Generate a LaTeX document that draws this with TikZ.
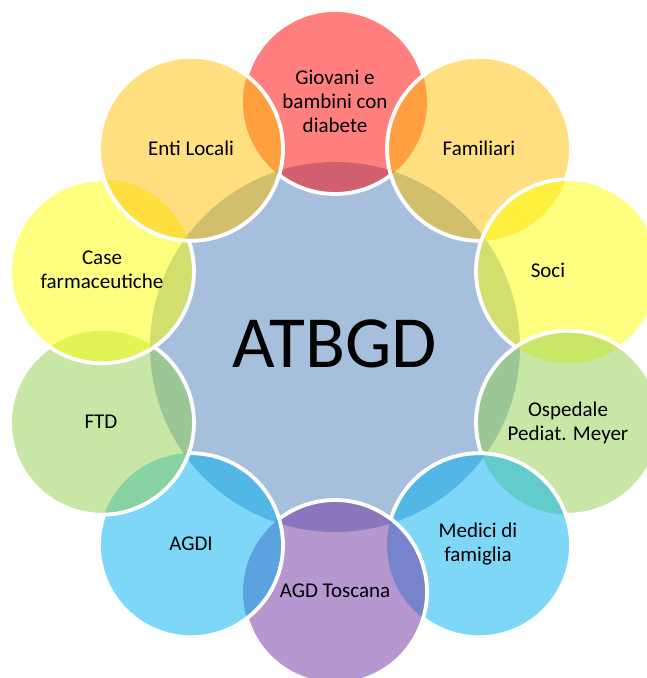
\documentclass[tikz,border=0pt]{standalone}
\usepackage{fontspec}
\setmainfont{Carlito}
\usetikzlibrary{calc}
\definecolor{cCenter}{RGB}{79,129,189}
\definecolor{cRed}{RGB}{255,0,0}
\definecolor{cOrange}{RGB}{255,192,0}
\definecolor{cYellow}{RGB}{255,255,0}
\definecolor{cGreen}{RGB}{146,208,80}
\definecolor{cBlue}{RGB}{0,176,240}
\definecolor{cPurple}{RGB}{112,48,160}
\tikzset{
  ring/.style={circle, minimum size=184pt, inner sep=0pt, outer sep=0pt, fill opacity=0.5, draw=none},
  hub/.style={circle, minimum size=370pt, inner sep=0pt, outer sep=0pt, fill=cCenter, fill opacity=0.5, draw=none},
  rim/.style={draw=white, line width=3.8pt},
  lbl/.style={font=\fontsize{21}{24}\selectfont, align=center, inner sep=0pt, text=black},
  big/.style={font=\fontsize{73.5}{80}\selectfont, inner sep=0pt, text=black},
}
\begin{document}
\begin{tikzpicture}[x=1pt,y=1pt]
\useasboundingbox (0,0) rectangle (647,678);
\fill[white] (0,0) rectangle (647,678);
\coordinate (C) at (335,331);
% fills
\node[hub] (hub) at (C) {};
\node[ring, fill=cRed]    (cRedN)  at ($(C)+(90:245pt)$) {};
\node[ring, fill=cOrange] (cFam)   at ($(C)+(54:245pt)$) {};
\node[ring, fill=cYellow] (cSoci)  at ($(C)+(18:245pt)$) {};
\node[ring, fill=cGreen]  (cOsp)   at ($(C)+(-18:245pt)$) {};
\node[ring, fill=cBlue]   (cMed)   at ($(C)+(-54:245pt)$) {};
\node[ring, fill=cPurple] (cTos)   at ($(C)+(-90:245pt)$) {};
\node[ring, fill=cBlue]   (cAgdi)  at ($(C)+(-126:245pt)$) {};
\node[ring, fill=cGreen]  (cFtd)   at ($(C)+(-162:245pt)$) {};
\node[ring, fill=cYellow] (cCase)  at ($(C)+(162:245pt)$) {};
\node[ring, fill=cOrange] (cEnti)  at ($(C)+(126:245pt)$) {};
% white rims (hidden where a later circle lies over them)
\draw[rim] ($(cRedN.center)+(16.6:92pt)$) arc[start angle=16.6, end angle=163.4, radius=92pt];
\draw[rim] ($(cRedN.center)+(232.6:92pt)$) arc[start angle=232.6, end angle=307.4, radius=92pt];
\draw[rim] ($(cFam.center)+(-19.4:92pt)$) arc[start angle=-19.4, end angle=271.4, radius=92pt];
\draw[rim] ($(cSoci.center)+(-55.4:92pt)$) arc[start angle=-55.4, end angle=235.4, radius=92pt];
\draw[rim] ($(cOsp.center)+(268.6:92pt)$) arc[start angle=268.6, end angle=559.4, radius=92pt];
\draw[rim] ($(cMed.center)+(232.6:92pt)$) arc[start angle=232.6, end angle=523.4, radius=92pt];
\draw[rim] ($(cTos.center)+(196.6:92pt)$) arc[start angle=196.6, end angle=487.4, radius=92pt];
\draw[rim] ($(cAgdi.center)+(160.6:92pt)$) arc[start angle=160.6, end angle=451.4, radius=92pt];
\draw[rim] ($(cFtd.center)+(124.6:92pt)$) arc[start angle=124.6, end angle=415.4, radius=92pt];
\draw[rim] ($(cCase.center)+(88.6:92pt)$) arc[start angle=88.6, end angle=379.4, radius=92pt];
\draw[rim] (cEnti.center) circle[radius=92pt];
% labels
\node[big] (tHub) at (335,334) {ATBGD};
\node[lbl] (tRed)  at (335,577) {Giovani e\\bambini con\\diabete};
\node[lbl] (tEnti) at (191,530) {Enti Locali};
\node[lbl] (tFam)  at (479,530) {Familiari};
\node[lbl] (tCase) at (102,408) {Case\\farmaceutiche};
\node[lbl] (tSoci) at (548,408) {Soci};
\node[lbl] (tOsp)  at (568,255) {Ospedale\\Pediat. Meyer};
\node[lbl] (tFtd)  at (101,256) {FTD};
\node[lbl] (tAgdi) at (191,134) {AGDI};
\node[lbl] (tMed)  at (478,134) {Medici di\\famiglia};
\node[lbl] (tTos)  at (335,87) {AGD Toscana};
\end{tikzpicture}
\end{document}
